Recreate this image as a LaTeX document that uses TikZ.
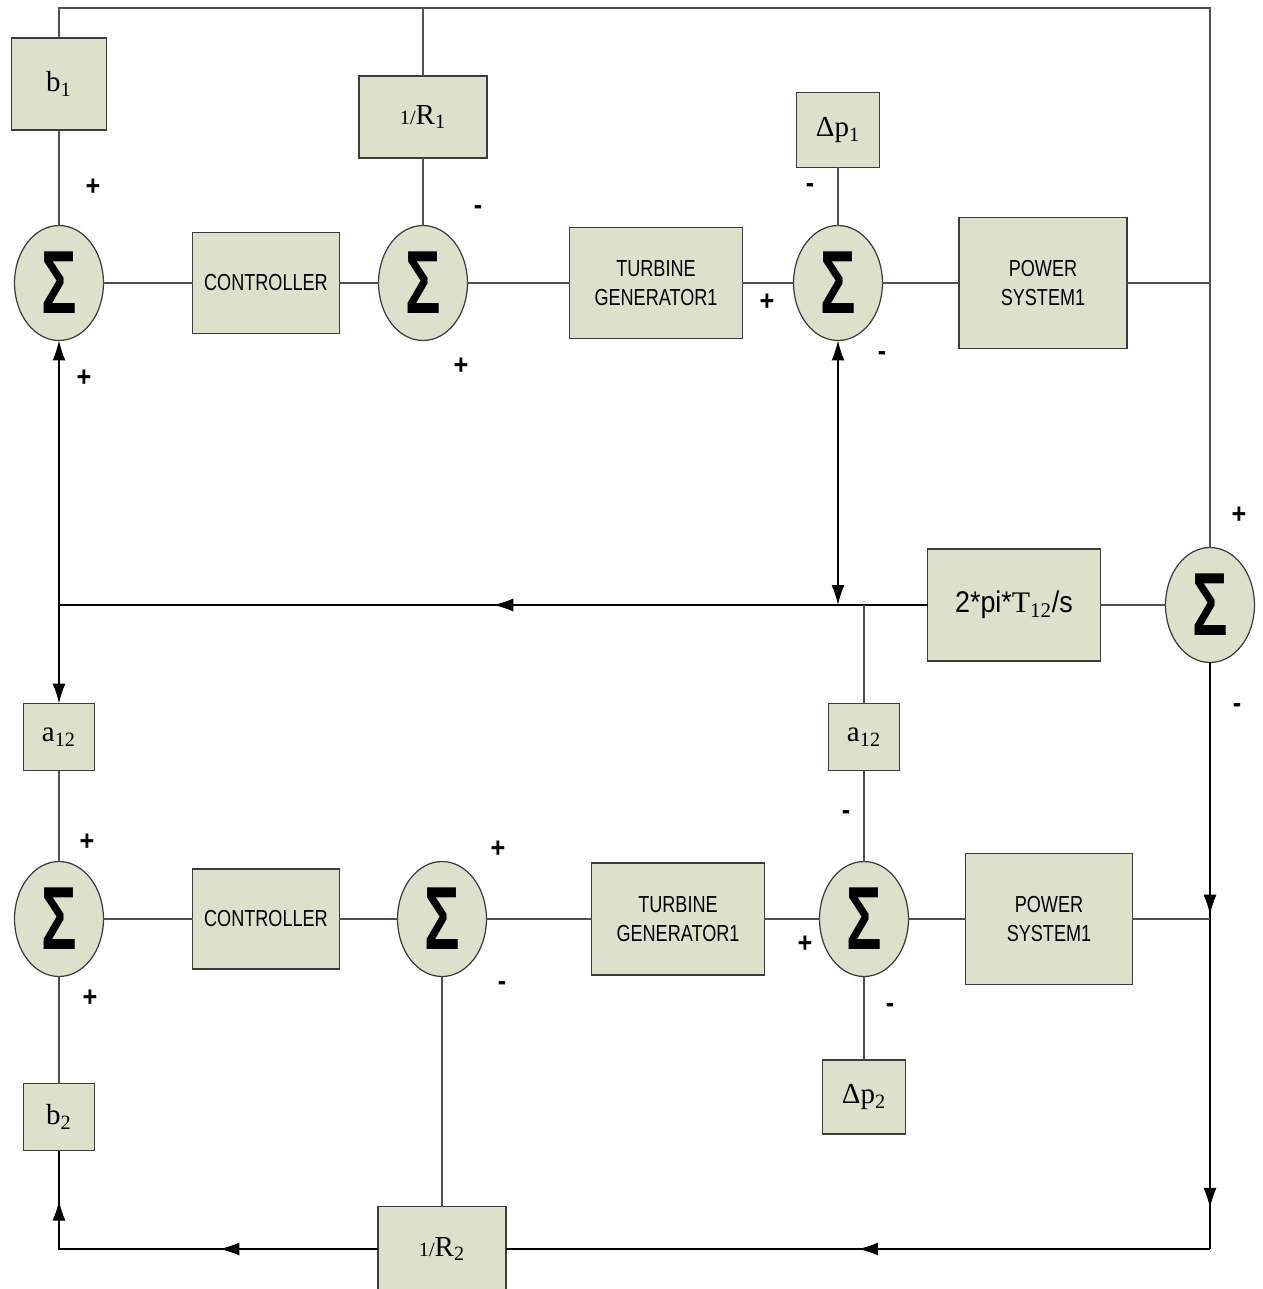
\documentclass[tikz,border=0pt]{standalone}
\usepackage{fontspec}
\setmainfont{Liberation Serif}
\newfontfamily\narrowsans[FakeStretch=0.78]{Liberation Sans}
\newfontfamily\plainsans[FakeStretch=0.9]{Liberation Sans}
\newfontfamily\sigmafont[FakeStretch=0.66]{Liberation Sans}
\usetikzlibrary{shapes.geometric, arrows.meta, decorations.markings}
\usepackage{xcolor}
\definecolor{BlockFill}{HTML}{DDE1CB}
\definecolor{BlockLine}{HTML}{3C3C3C}
\definecolor{WireGray}{HTML}{505050}

\tikzset{
  flowtip/.tip={Latex[length=4mm,width=2.6mm]},
  block/.style={draw=BlockLine, fill=BlockFill, line width=0.8pt, inner sep=0pt, outer sep=0pt},
  blocktext/.style={font=\narrowsans\fontsize{13.2}{16.5}\selectfont, align=center},
  gaintext/.style={font=\fontsize{16.5}{16.5}\selectfont},
  sumnode/.style={ellipse, draw=BlockLine, fill=BlockFill, line width=0.7pt, inner sep=0pt, outer sep=0pt,
    minimum width=1.78cm, minimum height=2.3cm,
    label={[font=\sigmafont\bfseries\fontsize{51}{51}\selectfont]center:Σ}},
  sign/.style={font=\plainsans\bfseries\fontsize{16}{16}\selectfont, inner sep=0pt},
  wire/.style={draw=WireGray, line width=0.6pt},
  arrowwire/.style={draw=black, line width=0.8pt},
  twoway/.style={arrowwire, {flowtip}-{flowtip}},
}

\begin{document}
\begin{tikzpicture}[x=0.02cm, y=-0.02cm]
\useasboundingbox (0,0) rectangle (1263,1289);

% Area 1
\node[block, minimum width=1.9cm, minimum height=1.84cm, gaintext] (b1) at (59,84) {b\textsubscript{1}};
\node[block, minimum width=2.56cm, minimum height=1.64cm, gaintext] (r1) at (423,117) {{\fontsize{11.5}{11.5}\selectfont 1/}R\textsubscript{1}};
\node[sumnode] (s1) at (59,283) {};
\node[block, minimum width=2.94cm, minimum height=2.02cm, blocktext] (ctrl1) at (266,283) {CONTROLLER};
\node[sumnode] (s2) at (423,283) {};
\node[block, minimum width=3.46cm, minimum height=2.22cm, blocktext] (tg1) at (656,283) {TURBINE\\GENERATOR1};
\node[sumnode] (s3) at (838,283) {};
\node[block, minimum width=1.66cm, minimum height=1.5cm, gaintext] (dp1) at (838,130) {Δp\textsubscript{1}};
\node[block, minimum width=3.36cm, minimum height=2.62cm, blocktext] (ps1) at (1043,283) {POWER\\SYSTEM1};

% Tie line
\node[sumnode] (s4) at (1210,605) {};
\node[block, minimum width=3.46cm, minimum height=2.24cm, font=\fontsize{17}{17}\selectfont] (tie) at (1014,605) {{\plainsans 2*pi*}T\textsubscript{12}{\plainsans /s}};
\node[block, minimum width=1.42cm, minimum height=1.34cm, gaintext] (a12l) at (59,737) {a\textsubscript{12}};
\node[block, minimum width=1.42cm, minimum height=1.34cm, gaintext] (a12r) at (864,737) {a\textsubscript{12}};

% Area 2
\node[sumnode] (s5) at (59,919) {};
\node[block, minimum width=2.94cm, minimum height=2.0cm, blocktext] (ctrl2) at (266,919) {CONTROLLER};
\node[sumnode] (s6) at (442,919) {};
\node[block, minimum width=3.46cm, minimum height=2.24cm, blocktext] (tg2) at (678,919) {TURBINE\\GENERATOR1};
\node[sumnode] (s7) at (864,919) {};
\node[block, minimum width=3.34cm, minimum height=2.62cm, blocktext] (ps2) at (1049,919) {POWER\\SYSTEM1};
\node[block, minimum width=1.42cm, minimum height=1.34cm, gaintext] (b2) at (59,1117) {b\textsubscript{2}};
\node[block, minimum width=1.66cm, minimum height=1.48cm, gaintext] (dp2) at (864,1097) {Δp\textsubscript{2}};
\node[block, minimum width=2.56cm, minimum height=1.7cm, gaintext] (r2) at (442,1249) {{\fontsize{11.5}{11.5}\selectfont 1/}R\textsubscript{2}};

% Signs
\node[sign] (sg1) at (93,187) {+};
\node[sign] (sg2) at (84,378) {+};
\node[sign] (sg3) at (478,210) {-};
\node[sign] (sg4) at (461,366) {+};
\node[sign] (sg5) at (767,302) {+};
\node[sign] (sg6) at (810,188) {-};
\node[sign] (sg7) at (882,356) {-};
\node[sign] (sg8) at (1239,515) {+};
\node[sign] (sg9) at (1237,708) {-};
\node[sign] (sg10) at (87,842) {+};
\node[sign] (sg11) at (90,998) {+};
\node[sign] (sg12) at (498,849) {+};
\node[sign] (sg13) at (502,986) {-};
\node[sign] (sg14) at (805,944) {+};
\node[sign] (sg15) at (846,815) {-};
\node[sign] (sg16) at (890,1008) {-};

% Junctions
\coordinate (tl) at (59,8);
\coordinate (tr) at (1210,8);
\coordinate (ml) at (59,605);
\coordinate (br) at (1210,1249);
\coordinate (bl) at (59,1249);

% Wires, area 1
\draw[wire] (b1.north) -- (tl) -- (tr) -- (s4.north);
\draw[wire] (r1.north) -- (r1.north |- tl);
\draw[wire] (b1.south) -- (s1.north);
\draw[wire] (s1.east) -- (ctrl1.west);
\draw[wire] (ctrl1.east) -- (s2.west);
\draw[wire] (r1.south) -- (s2.north);
\draw[wire] (s2.east) -- (tg1.west);
\draw[wire] (tg1.east) -- (s3.west);
\draw[wire] (dp1.south) -- (s3.north);
\draw[wire] (s3.east) -- (ps1.west);
\draw[wire] (ps1.east) -- (ps1.east -| tr);

% Wires, tie line
\draw[wire] (s4.west) -- (tie.east);
\draw[arrowwire, postaction={decorate}, decoration={markings, mark=at position 0.5 with {\arrow{flowtip}}}] (tie.west) -- (ml);
\draw[twoway] (s1.south) -- (a12l.north);
\draw[twoway] (s3.south) -- (s3.south |- ml);
\draw[wire] (a12r.north) -- (a12r.north |- ml);
\draw[arrowwire, postaction={decorate}, decoration={markings,
    mark=at position 0.43 with {\arrow{flowtip}}, mark=at position 0.93 with {\arrow{flowtip}}}] (s4.south) -- (br);

% Wires, area 2
\draw[wire] (a12l.south) -- (s5.north);
\draw[wire] (s5.south) -- (b2.north);
\draw[wire] (s5.east) -- (ctrl2.west);
\draw[wire] (ctrl2.east) -- (s6.west);
\draw[wire] (s6.east) -- (tg2.west);
\draw[wire] (tg2.east) -- (s7.west);
\draw[wire] (a12r.south) -- (s7.north);
\draw[wire] (s7.south) -- (dp2.north);
\draw[wire] (s7.east) -- (ps2.west);
\draw[wire] (ps2.east) -- (ps2.east -| br);
\draw[wire] (s6.south) -- (r2.north);
\draw[arrowwire, postaction={decorate}, decoration={markings, mark=at position 0.5 with {\arrow{flowtip}}}] (br) -- (r2.east);
\draw[arrowwire, postaction={decorate}, decoration={markings,
    mark=at position 0.38 with {\arrow{flowtip}}, mark=at position 0.88 with {\arrow{flowtip}}}] (r2.west) -- (bl) -- (b2.south);
\end{tikzpicture}
\end{document}
